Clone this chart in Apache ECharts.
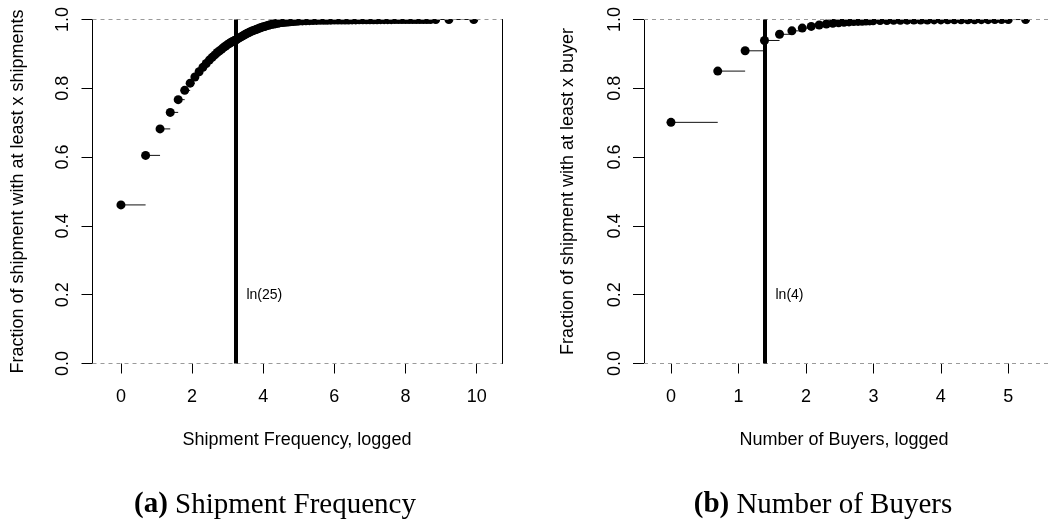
<!DOCTYPE html>
<html><head><meta charset="utf-8">
<script src="https://cdn.jsdelivr.net/npm/echarts@6/dist/echarts.min.js"></script>
<style>html,body{margin:0;padding:0;background:#fff}#c{width:1049px;height:522px}</style>
</head><body><div id="c"></div>
<script>
// ---- Panel (a): Shipment Frequency, logged ----
const shipX = [0, 0.693, 1.099, 1.386, 1.609, 1.792, 1.946, 2.079, 2.197, 2.303, 2.398, 2.485, 2.565, 2.639, 2.708, 2.773, 2.833, 2.890, 2.944, 2.996, 3.045, 3.091, 3.135, 3.178, 3.219,
  3.25, 3.30, 3.35, 3.40, 3.45, 3.50, 3.55, 3.60, 3.65, 3.70, 3.75, 3.80, 3.85, 3.90, 3.95, 4.00, 4.05, 4.10, 4.15, 4.20, 4.25, 4.30, 4.35, 4.40, 4.45, 4.50, 4.55, 4.60, 4.65, 4.70, 4.75, 4.80, 4.85, 4.90, 4.95, 5.00,
  5.1, 5.2, 5.3, 5.4, 5.5, 5.6, 5.7, 5.8, 5.9, 6.0, 6.1, 6.2, 6.3, 6.4, 6.5, 6.6, 6.7, 6.8, 6.9, 7.0, 7.1, 7.2, 7.3, 7.4, 7.5, 7.6, 7.7, 7.8, 7.9, 8.0, 8.1, 8.2, 8.3, 8.4, 8.5, 8.6, 8.7, 8.85, 9.22, 9.92];
const shipY = [0.461, 0.605, 0.682, 0.730, 0.767, 0.794, 0.815, 0.833, 0.848, 0.861, 0.872, 0.882, 0.890, 0.897, 0.904, 0.909, 0.914, 0.919, 0.923, 0.927, 0.930, 0.933, 0.936, 0.938, 0.940,
  0.942, 0.945, 0.948, 0.951, 0.954, 0.957, 0.960, 0.962, 0.965, 0.967, 0.969, 0.971, 0.973, 0.975, 0.977, 0.979, 0.980, 0.982, 0.983, 0.985, 0.986, 0.987, 0.988, 0.989, 0.990, 0.991, 0.9915, 0.992, 0.9925, 0.993, 0.9935, 0.994, 0.9945, 0.995, 0.9953, 0.9956,
  0.996, 0.9964, 0.9967, 0.997, 0.9973, 0.9975, 0.9977, 0.9979, 0.9981, 0.9983, 0.9984, 0.9985, 0.9986, 0.9987, 0.9988, 0.9989, 0.999, 0.9991, 0.9992, 0.9993, 0.9994, 0.9994, 0.9995, 0.9995, 0.9996, 0.9996, 0.9997, 0.9997, 0.9997, 0.9998, 0.9998, 0.9998, 0.9999, 0.9999, 0.9999, 0.9999, 0.9999, 1.0, 1.0, 1.0];
const shipTicks = [0, 2, 4, 6, 8, 10];
const shipCut = 3.219;          // ln(25)
const shipCutLabel = 'ln(25)';

// ---- Panel (b): Number of Buyers, logged ----
const buyX = [0, 0.693, 1.099, 1.386, 1.609, 1.792, 1.946, 2.079, 2.197, 2.303, 2.398, 2.485, 2.565, 2.639, 2.708, 2.773, 2.833, 2.890, 2.944, 2.996,
  3.1, 3.2, 3.3, 3.4, 3.5, 3.6, 3.7, 3.8, 3.9, 4.0, 4.1, 4.2, 4.3, 4.4, 4.5, 4.6, 4.7, 4.8, 4.9, 5.0, 5.256];
const buyY = [0.701, 0.850, 0.909, 0.939, 0.957, 0.967, 0.975, 0.980, 0.984, 0.987, 0.989, 0.9905, 0.992, 0.993, 0.994, 0.9945, 0.995, 0.9955, 0.996, 0.9963,
  0.9968, 0.9972, 0.9975, 0.9978, 0.998, 0.9982, 0.9984, 0.9986, 0.9988, 0.9989, 0.999, 0.9991, 0.9992, 0.9993, 0.9994, 0.9995, 0.9996, 0.9997, 0.9998, 0.9999, 1.0];
const buyTicks = [0, 1, 2, 3, 4, 5];
const buyCut = 1.386;           // ln(4)
const buyCutLabel = 'ln(4)';

const SANS = "'Liberation Sans', Arial, sans-serif";
const SERIF = "'Liberation Serif', 'Times New Roman', serif";

// plot-region geometry (pixels) and axis extents
const PANELS = [
  { left: 92.5, width: 409.4, min: -0.8, max: 10.71, ticks: shipTicks },
  { left: 644, width: 405, min: -0.4, max: 5.603, ticks: buyTicks }
];
const TOP = 19.5, HEIGHT = 344;

function segRender(params, api) {
  const p1 = api.coord([api.value(0), api.value(2)]);
  const p2 = api.coord([api.value(1), api.value(2)]);
  return { type: 'line', shape: { x1: p1[0], y1: p1[1], x2: p2[0], y2: p2[1] },
           style: { stroke: '#111', lineWidth: 1 } };
}
function labelRender(params, api) {
  const p = api.coord([api.value(0), api.value(1)]);
  return { type: 'text', x: p[0] + 11, y: p[1],
           style: { text: params.dataIndex === 0 ? api.value(2) : '', fill: '#000', font: '14px ' + SANS,
                    textAlign: 'left', textVerticalAlign: 'middle' } };
}

function panelSeries(idx, xs, ys, cut, cutLabel) {
  const segs = xs.slice(0, -1).map((x, i) => [x, xs[i + 1], ys[i]]);
  const pts = xs.map((x, i) => [x, ys[i]]);
  return [
    { type: 'custom', xAxisIndex: idx, yAxisIndex: idx * 2, renderItem: segRender,
      encode: { x: [0, 1], y: 2 }, data: segs, silent: true, z: 2 },
    { type: 'scatter', xAxisIndex: idx, yAxisIndex: idx * 2, data: pts, symbol: 'circle', symbolSize: 9,
      itemStyle: { color: '#000', opacity: 1 }, silent: true, z: 3,
      markLine: { silent: true, symbol: ['none', 'none'], label: { show: false }, animation: false,
        data: [
          { yAxis: 0, lineStyle: { type: [4, 4], color: '#9a9a9a', width: 1, opacity: 1 } },
          { yAxis: 1, lineStyle: { type: [4, 4], color: '#9a9a9a', width: 1, opacity: 1 } },
          { xAxis: cut, lineStyle: { type: 'solid', color: '#000', width: 4, opacity: 1 } }
        ] } },
    { type: 'custom', xAxisIndex: idx, yAxisIndex: idx * 2, renderItem: labelRender,
      encode: { x: 0, y: 1 }, data: [[cut, 0.2, cutLabel]], silent: true, z: 4 }
  ];
}

// data axes (no ticks/labels; they come from the tick axes below)
function xAxisDef(idx) {
  const P = PANELS[idx];
  return { type: 'value', gridIndex: idx, min: P.min, max: P.max,
    axisLine: { show: false, onZero: false }, splitLine: { show: false },
    axisTick: { show: false }, axisLabel: { show: false } };
}
// tick axes: same pixel scale, spanning exactly first..last tick so ticks start at a multiple of the interval
function tickAxisDef(idx) {
  const P = PANELS[idx];
  const t = P.ticks;
  return { type: 'value', gridIndex: idx + 2, min: t[0], max: t[t.length - 1], interval: t[1] - t[0],
    axisLine: { show: true, onZero: false, lineStyle: { color: 'rgba(255,255,255,0)', width: 1 } },
    splitLine: { show: false },
    axisTick: { show: true, inside: false, length: 10, lineStyle: { color: '#000', width: 1 } },
    axisLabel: { show: true, fontSize: 18, fontFamily: SANS, color: '#000', margin: 25 } };
}
function tickGrid(idx) {
  const P = PANELS[idx];
  const scale = P.width / (P.max - P.min);
  const t = P.ticks;
  return { left: P.left + (t[0] - P.min) * scale, top: TOP, width: (t[t.length - 1] - t[0]) * scale, height: HEIGHT };
}
function yAxisDefs(idx) {
  return [
    { type: 'value', gridIndex: idx, min: 0, max: 1, interval: 0.2, position: 'left',
      axisLine: { show: true, onZero: false, lineStyle: { color: '#000', width: 1 } },
      axisTick: { show: true, length: 11, lineStyle: { color: '#000', width: 1 } },
      splitLine: { show: false },
      axisLabel: { rotate: 90, fontSize: 18, fontFamily: SANS, color: '#000', margin: 20,
                   formatter: v => v.toFixed(1) } },
    { type: 'value', gridIndex: idx, min: 0, max: 1, position: 'right',
      axisLine: { show: true, onZero: false, lineStyle: { color: '#000', width: 1 } },
      axisTick: { show: false }, axisLabel: { show: false }, splitLine: { show: false } }
  ];
}
function hiddenY(g) {
  return { type: 'value', gridIndex: g, min: 0, max: 1, show: false };
}

const baseGraphic = [
  { id: 'maskA', type: 'rect', z: 100, silent: true, shape: { x: 93, y: 0, width: 408.4, height: 19 }, style: { fill: '#fff' } },
  { id: 'maskB', type: 'rect', z: 100, silent: true, shape: { x: 644.5, y: 0, width: 410, height: 19 }, style: { fill: '#fff' } },
  { id: 'ytA', type: 'text', z: 101, x: 18, y: 191.5, rotation: Math.PI / 2,
    style: { text: 'Fraction of shipment with at least x shipments', font: '18px ' + SANS, fill: '#000', textAlign: 'center', textVerticalAlign: 'middle' } },
  { id: 'ytB', type: 'text', z: 101, x: 568, y: 191.5, rotation: Math.PI / 2,
    style: { text: 'Fraction of shipment with at least x buyer', font: '18px ' + SANS, fill: '#000', textAlign: 'center', textVerticalAlign: 'middle' } },
  { id: 'xtA', type: 'text', z: 101, x: 297, y: 440.5,
    style: { text: 'Shipment Frequency, logged', font: '18px ' + SANS, fill: '#000', textAlign: 'center', textVerticalAlign: 'middle' } },
  { id: 'xtB', type: 'text', z: 101, x: 844, y: 440.5,
    style: { text: 'Number of Buyers, logged', font: '18px ' + SANS, fill: '#000', textAlign: 'center', textVerticalAlign: 'middle' } },
  { id: 'capA', type: 'text', z: 101, x: 275, y: 505,
    style: { text: '{b|(a)} Shipment Frequency', font: '29px ' + SERIF, fill: '#000', textAlign: 'center', textVerticalAlign: 'middle',
             rich: { b: { fontWeight: 'bold', fontSize: 29, fontFamily: SERIF } } } },
  { id: 'capB', type: 'text', z: 101, x: 823, y: 505,
    style: { text: '{b|(b)} Number of Buyers', font: '29px ' + SERIF, fill: '#000', textAlign: 'center', textVerticalAlign: 'middle',
             rich: { b: { fontWeight: 'bold', fontSize: 29, fontFamily: SERIF } } } }
];

const chart = echarts.init(document.getElementById('c'), null, { renderer: 'canvas' });
chart.setOption({
  animation: false,
  backgroundColor: '#fff',
  grid: [
    { left: PANELS[0].left, top: TOP, width: PANELS[0].width, height: HEIGHT },
    { left: PANELS[1].left, top: TOP, width: PANELS[1].width, height: HEIGHT },
    tickGrid(0),
    tickGrid(1)
  ],
  xAxis: [ xAxisDef(0), xAxisDef(1), tickAxisDef(0), tickAxisDef(1) ],
  yAxis: [ ...yAxisDefs(0), ...yAxisDefs(1), hiddenY(2), hiddenY(3) ],
  series: [
    ...panelSeries(0, shipX, shipY, shipCut, shipCutLabel),
    ...panelSeries(1, buyX, buyY, buyCut, buyCutLabel)
  ],
  graphic: baseGraphic
});
</script>
</body></html>
